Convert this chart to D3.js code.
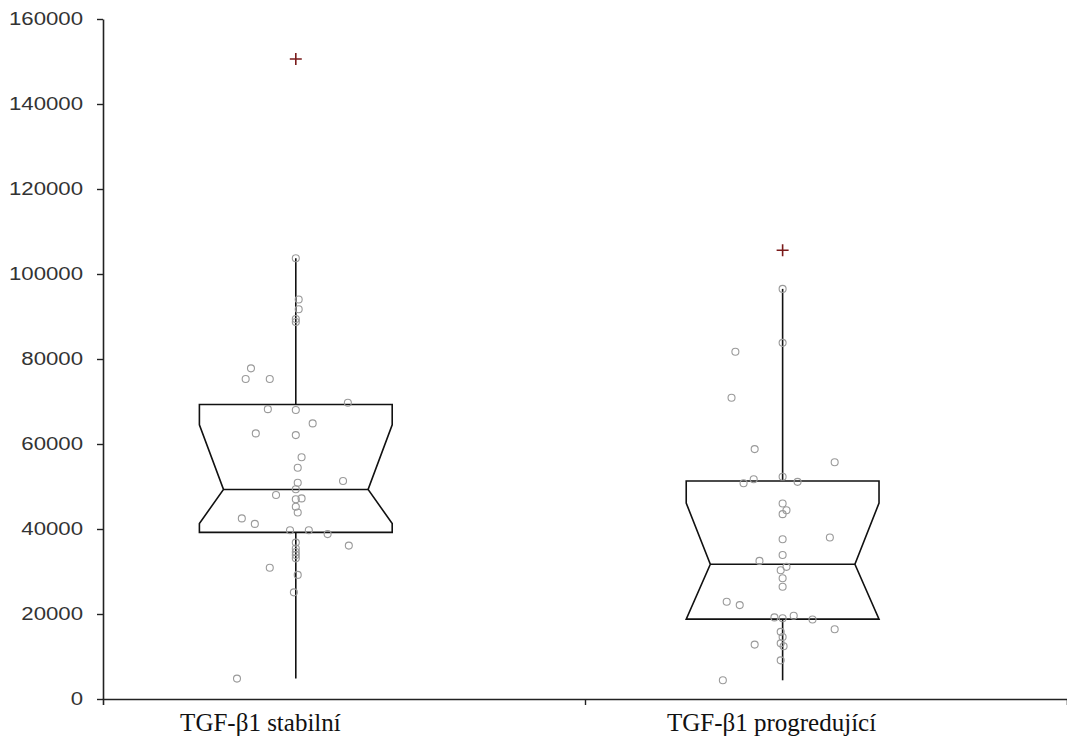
<!DOCTYPE html>
<html>
<head>
<meta charset="utf-8">
<script src="https://cdn.jsdelivr.net/npm/d3@7"></script>
<style>
  body { margin: 0; background: #fff; }
  svg { display: block; }
</style>
</head>
<body>
<svg id="chart" width="1067" height="745"></svg>
<script>
// Groups and their place on the horizontal scale
const groups = ["TGF-β1 stabilní", "TGF-β1 progredující"];
const groupPos = [0.4, 1.41];

// Box-plot summary per group
const q1 = [39200, 18800];
const median = [49300, 31700];
const q3 = [69300, 51300];
const notchLow = [41300, 18800];
const notchHigh = [64500, 46100];
const whiskerLow = [4800, 4400];
const whiskerHigh = [103700, 96500];
const outliers = [150600, 105600];

// Individual observations with their horizontal jitter (in x-scale units)
const stableValues = [103700, 94000, 91700, 89400, 88700, 77800, 75300, 75300, 69700, 68200,
  68000, 64850, 62500, 62100, 56900, 54400, 51300, 50900, 49350, 48000,
  47200, 47000, 45250, 43900, 42500, 41200, 39700, 39700, 38800, 36800,
  36100, 35400, 34600, 33900, 33100, 30900, 29200, 25100, 4800];
const stableJitter = [0, 0.006, 0.006, 0, 0, -0.093, -0.104, -0.054, 0.108, -0.058,
  0, 0.035, -0.083, 0, 0.012, 0.004, 0.098, 0.004, 0, -0.041,
  0.012, 0, 0, 0.004, -0.112, -0.085, -0.012, 0.027, 0.066, 0,
  0.110, 0, 0, 0, 0, -0.054, 0.004, -0.004, -0.122];

const progValues = [96500, 83800, 81700, 70900, 58800, 55700, 52300, 51700, 50750, 51100,
  46000, 44400, 43500, 38000, 37600, 33900, 32500, 31100, 30300, 28400,
  26400, 22900, 22100, 19200, 19000, 19600, 18700, 16400, 15800, 14600,
  13100, 12400, 12800, 9100, 4400];
const progJitter = [0, 0, -0.098, -0.106, -0.058, 0.108, 0, -0.060, -0.081, 0.031,
  0, 0.008, 0, 0.098, 0, 0, -0.048, 0.008, -0.004, 0,
  0, -0.116, -0.089, -0.017, 0, 0.023, 0.062, 0.108, -0.004, 0,
  -0.004, 0.002, -0.058, -0.004, -0.124];

const yTicks = [0, 20000, 40000, 60000, 80000, 100000, 120000, 140000, 160000];

const values = [stableValues, progValues];
const jitter = [stableJitter, progJitter];

const svg = d3.select("#chart");
const plotLeft = 103, plotRight = 1067, plotTop = 19, plotBottom = 699;

const x = d3.scaleLinear().domain([0, 2]).range([plotLeft, plotRight]);
const y = d3.scaleLinear().domain([0, 160000]).range([plotBottom, plotTop]);

const boxHalf = 0.2;     // half box width in x units
const notchHalf = 0.15;  // half width at the median notch
const labelShift = 0.24; // group labels start this far left of the box centre

// Y axis
const yAxis = svg.append("g")
  .attr("transform", `translate(${plotLeft},0)`)
  .call(d3.axisLeft(y).tickValues(yTicks).tickFormat(d3.format("d")).tickSize(6).tickSizeOuter(0));
yAxis.select(".domain").attr("stroke", "#222").attr("stroke-width", 1.6);
yAxis.selectAll(".tick line").attr("stroke", "#222").attr("stroke-width", 1.4);
yAxis.selectAll(".tick text")
  .attr("x", null)
  .attr("transform", "translate(-20,0) scale(1.2,1)")
  .attr("font-family", "'Liberation Sans', Arial, sans-serif")
  .attr("font-size", 18.5)
  .attr("fill", "#333");

// X axis with a divider tick between the two groups
const xAxis = svg.append("g")
  .attr("transform", `translate(0,${plotBottom})`)
  .call(d3.axisBottom(x).tickValues([1]).tickFormat("").tickSize(6).tickSizeOuter(6));
xAxis.select(".domain").attr("stroke", "#222").attr("stroke-width", 1.6);
xAxis.selectAll(".tick line").attr("stroke", "#222").attr("stroke-width", 1.4);

// Group labels
svg.append("g").selectAll("text")
  .data(groups)
  .join("text")
  .attr("x", (d, i) => x(groupPos[i] - labelShift))
  .attr("y", 731)
  .attr("text-anchor", "start")
  .attr("font-family", "'Liberation Serif', 'Times New Roman', serif")
  .attr("font-size", 25)
  .attr("fill", "#111")
  .text(d => d);

// Boxes, notches, whiskers
const boxes = svg.append("g").attr("fill", "none").attr("stroke", "#111").attr("stroke-width", 1.6);
groups.forEach((g, i) => {
  const c = groupPos[i];
  const L = x(c - boxHalf), R = x(c + boxHalf);
  const nL = x(c - notchHalf), nR = x(c + notchHalf);
  const cx = x(c);

  boxes.append("line").attr("x1", cx).attr("x2", cx).attr("y1", y(q3[i])).attr("y2", y(whiskerHigh[i]));
  boxes.append("line").attr("x1", cx).attr("x2", cx).attr("y1", y(q1[i])).attr("y2", y(whiskerLow[i]));

  const pts = [
    [L, y(q3[i])], [R, y(q3[i])], [R, y(notchHigh[i])], [nR, y(median[i])],
    [R, y(notchLow[i])], [R, y(q1[i])], [L, y(q1[i])], [L, y(notchLow[i])],
    [nL, y(median[i])], [L, y(notchHigh[i])]
  ];
  boxes.append("path").attr("d", d3.line()(pts) + "Z").attr("stroke-linejoin", "miter");
  boxes.append("line").attr("x1", nL).attr("x2", nR).attr("y1", y(median[i])).attr("y2", y(median[i]));
});

// Observations
groups.forEach((g, i) => {
  svg.append("g").selectAll("circle")
    .data(values[i])
    .join("circle")
    .attr("cx", (d, k) => x(groupPos[i] + jitter[i][k]))
    .attr("cy", d => y(d))
    .attr("r", 3.5)
    .attr("fill", "none")
    .attr("stroke", "#9a9a9a")
    .attr("stroke-width", 1.1);
});

// Outliers marked with a plus
svg.append("g").selectAll("path")
  .data(outliers)
  .join("path")
  .attr("transform", (d, i) => `translate(${x(groupPos[i])},${y(d)})`)
  .attr("d", "M-6,0H6M0,-6V6")
  .attr("stroke", "#7a1b1b")
  .attr("stroke-width", 1.6)
  .attr("fill", "none");
</script>
</body>
</html>
